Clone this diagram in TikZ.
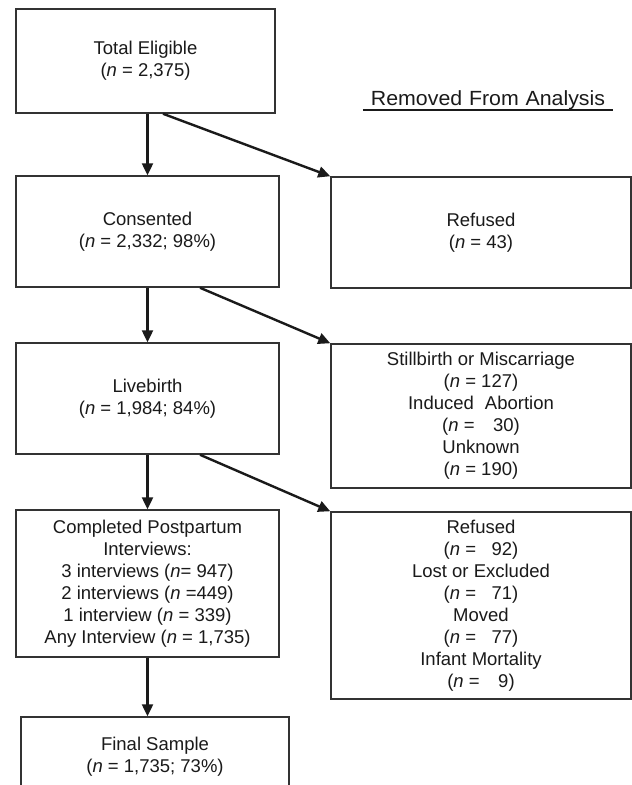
\documentclass[tikz,border=0pt]{standalone}
\usepackage{fontspec}
\setmainfont{Liberation Sans}
\newfontfamily\hdfont[FakeStretch=1.04]{Liberation Sans}
\usetikzlibrary{arrows.meta,calc}
\definecolor{edge}{HTML}{333333}
\definecolor{ink}{HTML}{1A1A1A}
\tikzset{
  box/.style={draw=edge, line width=1.5pt, fill=white, align=center, inner sep=0pt,
    font=\fontsize{18.5}{22}\selectfont, text=ink},
  arr/.style={draw=ink, line width=2.4pt, -{Triangle[length=12pt,width=11pt]}},
}
\newcommand{\nn}{\textit{n}}
\begin{document}
\begin{tikzpicture}[x=1pt,y=-1pt]
\useasboundingbox[fill=white] (0,0) rectangle (632,785);
% left column
\node[box, minimum width=259pt, minimum height=104pt] (b1) at (145.5,61) {Total Eligible\\(\nn{} = 2,375)};
\node[box, minimum width=263pt, minimum height=111pt] (b2) at (147.5,231.5) {Consented\\(\nn{} = 2,332; 98\%)};
\node[box, minimum width=263pt, minimum height=111pt] (b3) at (147.5,398.5) {Livebirth\\(\nn{} = 1,984; 84\%)};
\node[box, minimum width=263pt, minimum height=147pt] (b4) at (147.5,583.5) {Completed Postpartum\\Interviews:\\3 interviews (\nn= 947)\\2 interviews (\nn{} =449)\\1 interview (\nn{} = 339)\\Any Interview (\nn{} = 1,735)};
\node[box, minimum width=268pt, minimum height=80pt] (b5) at (155,757) {Final Sample\\(\nn{} = 1,735; 73\%)};
% right column
\node[font=\hdfont\fontsize{20.5}{22}\selectfont, text=ink, inner sep=0pt, text width=250pt, align=center, anchor=base] (hd) at (488,105) {Removed From Analysis};
\draw[ink, line width=2.4pt] ([yshift=-5pt]hd.base west) -- ([yshift=-5pt]hd.base east);
\node[box, minimum width=300pt, minimum height=111pt] (r1) at (481,232.5) {Refused\\(\nn{} = 43)};
\node[box, minimum width=300pt, minimum height=144pt] (r2) at (481,416) {Stillbirth or Miscarriage\\(\nn{} = 127)\\Induced\hspace{0.6em}Abortion\\(\nn{} = \phantom{0}\,30)\\Unknown\\(\nn{} = 190)};
\node[box, minimum width=300pt, minimum height=187pt] (r3) at (481,605.5) {Refused\\(\nn{} = \phantom{0}92)\\Lost or Excluded\\(\nn{} = \phantom{0}71)\\Moved\\(\nn{} = \phantom{0}77)\\Infant Mortality\\(\nn{} = \phantom{0}\,9)};
% arrows
\draw[arr] (b1.south -| b2.north) -- (b2.north);
\draw[arr] ([xshift=17.5pt]b1.south) -- (r1.north west);
\draw[arr] (b2.south) -- (b3.north);
\draw[arr] ([xshift=52.5pt]b2.south) -- (r2.north west);
\draw[arr] (b3.south) -- (b4.north);
\draw[arr] ([xshift=52.5pt]b3.south) -- (r3.north west);
\draw[arr] (b4.south) -- (b4.south |- b5.north);
\end{tikzpicture}
\end{document}
